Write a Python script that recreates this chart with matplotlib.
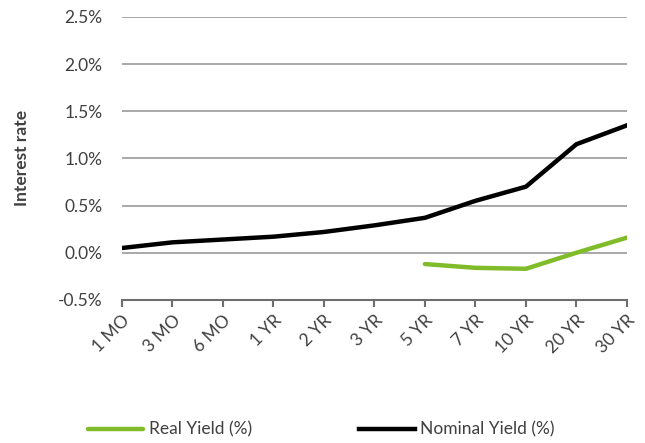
import numpy as np
import matplotlib.pyplot as plt
from matplotlib.ticker import FuncFormatter

plt.rcParams['font.family'] = ['Lato', 'DejaVu Sans']

maturities = ["1 MO", "3 MO", "6 MO", "1 YR", "2 YR", "3 YR", "5 YR", "7 YR", "10 YR", "20 YR", "30 YR"]
nominal = [0.05, 0.11, 0.14, 0.17, 0.22, 0.29, 0.37, 0.55, 0.70, 1.15, 1.35]
real = [np.nan, np.nan, np.nan, np.nan, np.nan, np.nan, -0.12, -0.16, -0.17, 0.00, 0.16]

x = np.arange(len(maturities))

fig = plt.figure(figsize=(6.45, 4.43), dpi=100)
ax = fig.add_axes([0.189, 0.323, 0.783, 0.639])

ax.plot(x, real, color="#80BC2A", lw=3.2, label="Real Yield (%)", solid_capstyle="round")
ax.plot(x, nominal, color="black", lw=3.2, label="Nominal Yield (%)")

ax.set_xlim(0, len(maturities) - 1)
ax.set_ylim(-0.5, 2.5)
ax.set_yticks(np.arange(-0.5, 2.51, 0.5))
ax.yaxis.set_major_formatter(FuncFormatter(lambda v, p: f"{v:.1f}%"))
ax.grid(axis="y", color="#9a9a9a", lw=1.2)
ax.set_axisbelow(True)

for s in ["top", "right", "left"]:
    ax.spines[s].set_visible(False)
ax.spines["bottom"].set_color("#6e6e6e")
ax.spines["bottom"].set_linewidth(1.5)

ax.set_xticks(x)
ax.set_xticklabels(maturities, rotation=45, ha="right", rotation_mode="anchor")
ax.tick_params(axis="x", length=5, width=1.5, color="#6e6e6e", labelsize=12.5, pad=4)
ax.tick_params(axis="x", labelcolor="#404040")
ax.tick_params(axis="y", length=0, labelsize=12.5, labelcolor="#404040", pad=14)

ax.set_ylabel("Interest rate", fontsize=12.5, fontweight="bold", color="#404040", labelpad=20)

fig.legend(loc="center", bbox_to_anchor=(0.498, 0.03), ncol=2, frameon=False,
           fontsize=12.5, handlelength=3.2, handletextpad=0.3, columnspacing=6.2,
           labelcolor="#404040")

fig.savefig("out.png", dpi=100)
